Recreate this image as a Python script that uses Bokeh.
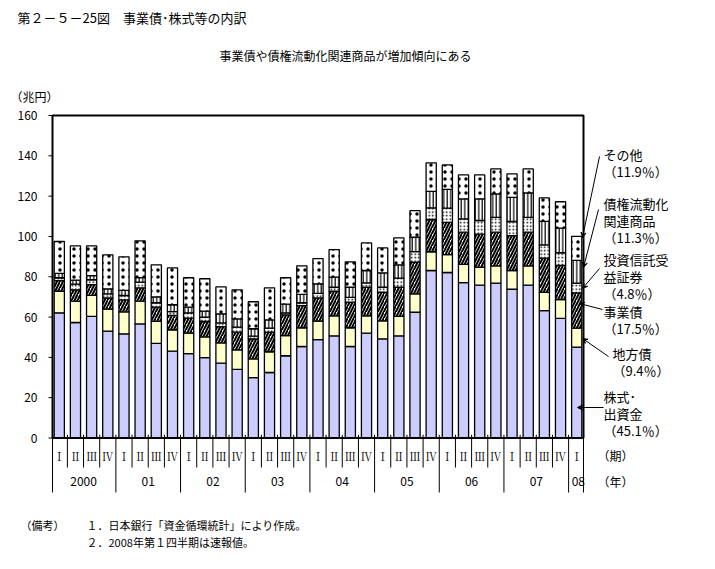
from bokeh.plotting import figure
from bokeh.models import ColumnDataSource, Range1d, Arrow, VeeHead
from bokeh.core.properties import value
from bokeh.embed import file_html
from bokeh.resources import INLINE
import numpy as np

# ---------------- data ----------------
quarters = ["Ⅰ", "Ⅱ", "Ⅲ", "Ⅳ"] * 8 + ["Ⅰ"]
years = ["2000", "01", "02", "03", "04", "05", "06", "07", "08"]
stocks = [62.1, 57.3, 60.3, 53.0, 51.7, 56.6, 46.9, 43.1, 41.9, 39.9, 37.1, 34.0,
          30.0, 32.5, 40.8, 45.4, 48.8, 50.7, 45.4, 52.0, 49.2, 50.7, 62.4, 83.1,
          82.1, 77.1, 75.8, 76.8, 73.8, 75.8, 63.2, 59.3, 45.1]
local_bonds = [10.7, 10.6, 10.5, 10.9, 10.9, 11.3, 11.0, 10.6, 10.1, 10.3, 10.1, 9.7,
               9.3, 10.3, 10.0, 9.3, 9.2, 9.9, 9.3, 8.6, 8.9, 9.6, 9.1, 9.3,
               8.9, 9.0, 8.9, 8.6, 9.3, 9.6, 9.0, 9.4, 9.4]
corp_bonds = [5.3, 5.6, 5.3, 5.6, 5.9, 6.6, 7.0, 7.1, 7.4, 7.6, 8.1, 8.8,
              9.9, 9.7, 10.3, 11.0, 11.5, 12.2, 12.7, 14.2, 14.2, 14.5, 15.7, 16.0,
              16.0, 16.0, 16.4, 16.7, 17.3, 16.7, 17.0, 16.9, 17.5]
trusts = [1.4, 2.8, 2.4, 2.0, 2.2, 2.8, 2.2, 1.9, 2.7, 2.1, 1.8, 2.5,
          1.3, 2.0, 1.0, 1.4, 2.3, 2.0, 2.4, 2.2, 2.5, 4.5, 5.3, 5.8,
          7.0, 6.6, 6.8, 7.4, 7.0, 7.4, 6.6, 6.3, 4.8]
securitized = [2.2, 2.0, 2.1, 2.5, 2.5, 2.3, 2.9, 3.4, 2.8, 3.0, 4.5, 4.1,
               3.7, 4.1, 4.3, 4.2, 4.7, 5.0, 5.0, 6.1, 7.1, 6.6, 7.1, 8.2,
               9.3, 9.9, 10.7, 11.6, 12.0, 12.1, 11.7, 12.2, 11.3]
others = [15.8, 17.0, 14.7, 16.9, 16.7, 18.2, 15.9, 18.3, 14.6, 16.1, 13.4, 14.4,
          13.4, 15.9, 13.1, 14.1, 12.5, 13.7, 12.6, 13.7, 12.4, 13.4, 13.2, 14.1,
          12.2, 11.9, 11.9, 12.4, 11.6, 11.9, 11.6, 13.1, 11.9]
series_labels = [["株式･", "出資金"], ["地方債"], ["事業債"], ["投資信託受", "益証券"],
                 ["債権流動化", "関連商品"], ["その他"]]
y_ticks = [0, 20, 40, 60, 80, 100, 120, 140, 160]

layers = [stocks, local_bonds, corp_bonds, trusts, securitized, others]

# ---------------- layout (page pixels) ----------------
FONT = value("Noto Sans CJK JP")
W, H = 707, 561
BOX_L, BOX_R = 52, 583
BOX_T, BOX_B = 115, 437.5
X_LO, X_HI = -0.42, 32.42
Y_LO, Y_HI = 0, 160
ux = (BOX_R - BOX_L) / (X_HI - X_LO)
uy = (BOX_B - BOX_T) / (Y_HI - Y_LO)
x0 = X_LO - BOX_L / ux
x1 = x0 + W / ux
y1 = Y_HI + BOX_T / uy
y0 = y1 - H / uy


def px(rx):  # page pixel -> data x
    return x0 + rx / ux


def py(ry):  # page pixel -> data y
    return y1 - ry / uy


p = figure(width=W, height=H, x_range=Range1d(x0, x1), y_range=Range1d(y0, y1),
           output_backend="svg", toolbar_location=None, min_border=0,
           x_axis_type=None, y_axis_type=None, outline_line_color=None,
           background_fill_color="white", border_fill_color="white")
p.grid.visible = False

n = len(stocks)
xs = np.arange(n)
cum = np.cumsum(np.array(layers), axis=0)
bottoms = np.vstack([np.zeros(n), cum[:-1]])

styles = [
    dict(fill_color="#CCCCFF", hatch_pattern=None),
    dict(fill_color="#FFFFCC", hatch_pattern=None),
    dict(fill_color="white", hatch_pattern="/", hatch_scale=6, hatch_weight=2.0),
    dict(fill_color="white", hatch_pattern=".", hatch_scale=3.5, hatch_weight=0.8),
    dict(fill_color="white", hatch_pattern="|", hatch_scale=3.5, hatch_weight=1.2),
    dict(fill_color="white", hatch_pattern=".", hatch_scale=7, hatch_weight=0.5),
]
for k in range(len(layers)):
    src = ColumnDataSource(dict(x=xs, b=bottoms[k], t=cum[k]))
    st = dict(styles[k])
    hp = st.pop("hatch_pattern")
    kw = dict(x="x", bottom="b", top="t", width=0.63, source=src,
              line_color="black", line_width=1.3, **st)
    if hp:
        kw["hatch_pattern"] = hp
        kw["hatch_color"] = "black"
    p.vbar(**kw)

# chart box
p.quad(left=[X_LO], right=[X_HI], bottom=[Y_LO], top=[Y_HI], fill_color=None,
       line_color="black", line_width=2)

# y axis ticks and labels
p.segment(x0=[X_LO - 4 / ux] * len(y_ticks), x1=[X_LO] * len(y_ticks),
          y0=y_ticks, y1=y_ticks, line_color="black", line_width=1)
p.text(x=[px(37)] * len(y_ticks), y=y_ticks, text=[str(v) for v in y_ticks],
       text_font=FONT, text_font_size="12px", text_align="right",
       text_baseline="middle", text_color="black")
p.text(x=[px(10)], y=[py(96)], text=["（兆円）"], text_font=FONT,
       text_font_size="12px", text_align="left", text_baseline="middle")

# category table
q_sep = [i + 0.5 for i in range(n - 1) if (i + 1) % 4 != 0]
y_sep = [X_LO] + [4 * k - 0.5 for k in range(1, 9)] + [X_HI]
p.segment(x0=q_sep, x1=q_sep, y0=[1.6] * len(q_sep), y1=[py(467)] * len(q_sep),
          line_color="black", line_width=1)
p.segment(x0=y_sep, x1=y_sep, y0=[1.6] * len(y_sep), y1=[py(492)] * len(y_sep),
          line_color="black", line_width=1)
p.text(x=list(xs), y=[py(455)] * n, text=quarters, text_font=value("Noto Serif CJK JP"),
       text_font_size="11px", text_align="center", text_baseline="middle")
yr_x = [4 * k + 1.5 for k in range(8)] + [32.1]
p.text(x=yr_x, y=[py(481)] * len(years), text=years, text_font=FONT,
       text_font_size="12px", text_align="center", text_baseline="middle")
p.text(x=[px(597)] * 2, y=[py(455), py(481)], text=["（期）", "（年）"], text_font=FONT,
       text_font_size="12px", text_align="left", text_baseline="middle")

# titles and notes
p.text(x=[px(17)], y=[py(17)], text=["第２－５－25図　事業債･株式等の内訳"], text_font=FONT,
       text_font_size="13px", text_align="left", text_baseline="middle")
p.text(x=[px(345)], y=[py(55)], text=["事業債や債権流動化関連商品が増加傾向にある"], text_font=FONT,
       text_font_size="12px", text_align="center", text_baseline="middle")
p.text(x=[px(20), px(86), px(86)], y=[py(524), py(524), py(541)],
       text=["（備考）", "１．日本銀行「資金循環統計」により作成。", "２．2008年第１四半期は速報値。"],
       text_font=FONT, text_font_size="11px", text_align="left", text_baseline="middle")

# right-side annotations for the last bar
last = [layer[-1] for layer in layers]
total = sum(last)
shares = ["（%.1f％）" % (v / total * 100) for v in last]
ann_top = [390, 347, 305, 253, 197, 148]   # page y of first text line per series
ann_x = [603, 612, 603, 603, 603, 603]
arrows = [((603, 407), (577, 407)), ((608, 356), (582, 338)), ((602, 309), (579, 303)),
          ((599, 268), (582, 288)), ((598, 209), (583, 267)), ((599, 156), (582, 237))]
for k in range(len(layers)):
    lines = series_labels[k] + [shares[k]]
    ty = [py(ann_top[k] + 6 + 17 * j) for j in range(len(lines))]
    p.text(x=[px(ann_x[k])] * len(lines), y=ty, text=lines, text_font=FONT,
           text_font_size="13px", text_align="left", text_baseline="middle")
    (sx, sy), (ex, ey) = arrows[k]
    p.add_layout(Arrow(end=VeeHead(size=5, line_color="black", line_width=1),
                       x_start=px(sx), y_start=py(sy), x_end=px(ex), y_end=py(ey),
                       line_color="black", line_width=1))

open("out.html", "w").write(file_html(p, INLINE))
